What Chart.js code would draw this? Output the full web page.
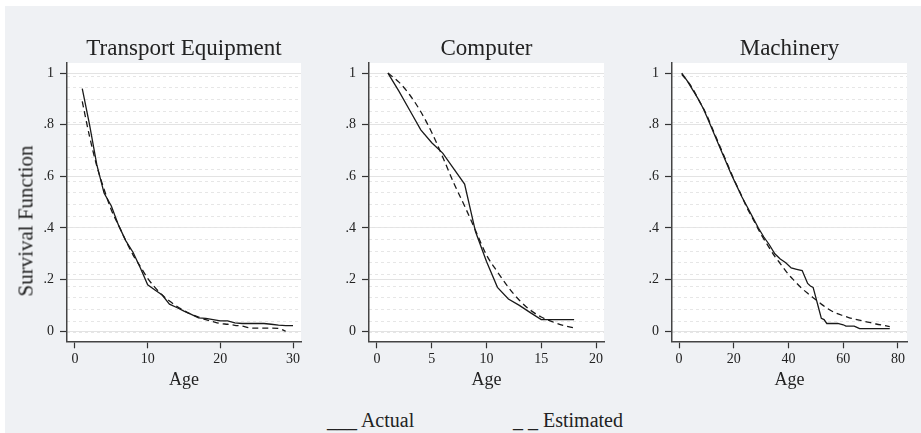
<!DOCTYPE html>
<html>
<head>
<meta charset="utf-8">
<script src="https://cdn.jsdelivr.net/npm/chart.js@4.4.1/dist/chart.umd.min.js"></script>
<style>
  html, body { margin: 0; padding: 0; background: #fff; }
  body { width: 921px; height: 433px; position: relative; overflow: hidden;
         font-family: "Liberation Serif", "Times New Roman", serif; color: #222; }
  #frame { position: absolute; left: 5px; top: 6px; right: 0; bottom: 0; background: #eff1f4; }
  canvas { position: absolute; top: 0; }
  #ylabel { position: absolute; left: 26px; top: 221px; font-size: 21px; white-space: nowrap;
            transform: translate(-50%, -50%) rotate(-90deg); }
  .key { position: absolute; top: 410px; font-size: 20px; line-height: 20px; white-space: nowrap; }
</style>
</head>
<body>
<div id="frame"></div>
<canvas id="c1" width="310" height="389" style="left:0px"></canvas>
<canvas id="c2" width="302" height="389" style="left:310px"></canvas>
<canvas id="c3" width="303" height="389" style="left:612px"></canvas>
<div id="ylabel">Survival Function</div>
<div class="key" style="left:327px">___ Actual</div>
<div class="key" style="left:513px">_ _ Estimated</div>

<script>
// ---- data ----
var yTicks = [0, 0.2, 0.4, 0.6, 0.8, 1];
var yTickLabels = ['0', '.2', '.4', '.6', '.8', '1'];

var transportTicks = [0, 10, 20, 30];
var transportAge = [1, 2, 3, 4, 5, 6, 7, 8, 9, 10, 11, 12, 13, 14, 15, 16, 17, 18, 19, 20, 21, 22, 23, 24, 25, 26, 27, 28, 29, 30];
var transportActual = [0.94, 0.80, 0.645, 0.535, 0.485, 0.41, 0.35, 0.305, 0.245, 0.18, 0.16, 0.14, 0.105, 0.092, 0.078,
                       0.065, 0.052, 0.05, 0.045, 0.04, 0.04, 0.032, 0.03, 0.03, 0.03, 0.03, 0.027, 0.024, 0.022, 0.022];
var transportEstAge = [1, 2, 3, 4, 5, 6, 7, 8, 9, 10, 11, 12, 13, 14, 15, 16, 17, 18, 19, 20, 21, 22, 23, 24, 25, 26, 27, 28, 29];
var transportEstimated = [0.89, 0.755, 0.64, 0.55, 0.47, 0.41, 0.35, 0.295, 0.25, 0.205, 0.17, 0.14, 0.117, 0.097, 0.08,
                          0.066, 0.055, 0.045, 0.037, 0.03, 0.027, 0.023, 0.02, 0.013, 0.012, 0.012, 0.012, 0.011, 0.0];

var computerTicks = [0, 5, 10, 15, 20];
var computerAge = [1, 2, 3, 4, 5, 6, 7, 8, 9, 10, 11, 12, 13, 14, 15, 16, 17, 18];
var computerActual = [1.0, 0.93, 0.855, 0.78, 0.73, 0.69, 0.63, 0.57, 0.385, 0.27, 0.17, 0.125, 0.10, 0.072, 0.045, 0.045, 0.045, 0.045];
var computerEstimated = [1.0, 0.965, 0.915, 0.85, 0.77, 0.675, 0.575, 0.485, 0.39, 0.295, 0.23, 0.17, 0.12, 0.082, 0.055, 0.037, 0.023, 0.013];

var machineryTicks = [0, 20, 40, 60, 80];
var machineryAge = [1, 3, 5, 7, 9, 11, 13, 15, 17, 19, 21, 23, 25, 27, 29, 31, 33, 35, 37, 39,
                    41, 43, 45, 46, 47, 48, 49, 50, 51, 52, 53, 54, 56, 58, 60, 61, 64, 65, 66, 70, 74, 77];
var machineryActual = [1.0, 0.97, 0.935, 0.90, 0.86, 0.81, 0.76, 0.71, 0.66, 0.61, 0.565, 0.52, 0.48, 0.44, 0.40, 0.365, 0.335, 0.30, 0.28, 0.265,
                       0.245, 0.24, 0.235, 0.21, 0.185, 0.175, 0.17, 0.13, 0.09, 0.05, 0.045, 0.03, 0.03, 0.03, 0.025, 0.02, 0.02, 0.015, 0.01, 0.01, 0.01, 0.01];
var machineryEstAge = [1, 3, 5, 7, 10, 12, 15, 17, 20, 22, 25, 27, 30, 32, 35, 37, 40, 42, 45, 47, 50, 52, 55, 57, 60, 62, 65, 67, 70, 72, 75, 77];
var machineryEstimated = [0.995, 0.97, 0.94, 0.90, 0.84, 0.79, 0.715, 0.665, 0.59, 0.545, 0.475, 0.435, 0.375, 0.34, 0.29, 0.262,
                          0.22, 0.197, 0.165, 0.147, 0.122, 0.105, 0.083, 0.072, 0.06, 0.053, 0.045, 0.04, 0.033, 0.028, 0.022, 0.018];

// ---- drawing ----
var serif = '"Liberation Serif", "Times New Roman", serif';
var ink = '#1a1a1a';

// faint dotted lines behind the curves (scan-like texture in the original)
var minorLines = [];
for (var v = 0.988; v > -0.03; v -= 0.0452) minorLines.push(v);

var plotBackground = {
    id: 'plotBackground',
    beforeDraw: function (chart) {
        var a = chart.chartArea;
        chart.ctx.save();
        chart.ctx.fillStyle = '#ffffff';
        chart.ctx.fillRect(a.left, a.top, a.right - a.left, a.bottom - a.top);
        chart.ctx.restore();
    }
};

function points(xs, ys) {
    return xs.map(function (x, i) { return {x: x, y: ys[i]}; });
}

function makePanel(id, title, actAge, act, estAge, est, xTicks, xMin, xMax, yWidth, padRight) {
    new Chart(document.getElementById(id), {
        type: 'line',
        data: {
            datasets: [{
                label: 'Actual',
                data: points(actAge, act),
                borderColor: ink,
                borderWidth: 1.3,
                pointRadius: 0,
                tension: 0,
                fill: false
            }, {
                label: 'Estimated',
                data: points(estAge, est),
                borderColor: ink,
                borderWidth: 1.3,
                borderDash: [6, 4],
                pointRadius: 0,
                cubicInterpolationMode: 'monotone',
                fill: false
            }]
        },
        options: {
            responsive: false,
            animation: false,
            layout: { padding: { left: 0, right: padRight, top: 0, bottom: 0 } },
            plugins: {
                legend: { display: false },
                tooltip: { enabled: false },
                title: {
                    display: true,
                    text: title,
                    fullSize: false,
                    color: '#222',
                    font: { family: serif, size: 23, weight: 'normal', lineHeight: 1 },
                    padding: { top: 37.5, bottom: 2.5 }
                }
            },
            scales: {
                x: {
                    type: 'linear',
                    min: xMin,
                    max: xMax,
                    afterBuildTicks: function (s) { s.ticks = xTicks.map(function (t) { return {value: t}; }); },
                    grid: { drawOnChartArea: false, drawTicks: true, tickLength: 7, tickColor: '#333', tickWidth: 1.2 },
                    border: { display: true, color: '#444', width: 1.5 },
                    ticks: { color: '#222', padding: 4, maxRotation: 0, autoSkip: false,
                             font: { family: serif, size: 14, lineHeight: 1.05 } },
                    title: { display: true, text: 'Age', color: '#222',
                             font: { family: serif, size: 18, lineHeight: 1 }, padding: { top: 0, bottom: 0 } }
                },
                y: {
                    type: 'linear',
                    min: -0.039,
                    max: 1.039,
                    afterBuildTicks: function (s) { s.ticks = yTicks.map(function (t) { return {value: t}; }); },
                    afterFit: function (s) { s.width = yWidth; },
                    grid: { color: '#e3e3e3', lineWidth: 1, tickLength: 7, tickColor: '#333', tickWidth: 1.2 },
                    border: { display: true, color: '#444', width: 1.5 },
                    ticks: {
                        color: '#222', padding: 6,
                        font: { family: serif, size: 14 },
                        callback: function (val, i) { return yTickLabels[i]; }
                    }
                },
                yMinor: {
                    type: 'linear',
                    position: 'left',
                    min: -0.039,
                    max: 1.039,
                    afterBuildTicks: function (s) { s.ticks = minorLines.map(function (t) { return {value: t}; }); },
                    grid: { color: '#e6e6e6', lineWidth: 1, drawTicks: false },
                    border: { display: false, dash: [3, 3] },
                    ticks: { display: false }
                }
            }
        },
        plugins: [plotBackground]
    });
}

makePanel('c1', 'Transport Equipment', transportAge, transportActual, transportEstAge, transportEstimated,
          transportTicks, -1.1, 31.1, 67, 9);
makePanel('c2', 'Computer', computerAge, computerActual, computerAge, computerEstimated,
          computerTicks, -0.73, 20.73, 59, 8);
makePanel('c3', 'Machinery', machineryAge, machineryActual, machineryEstAge, machineryEstimated,
          machineryTicks, -2.56, 83.3, 60, 8);
</script>
</body>
</html>
